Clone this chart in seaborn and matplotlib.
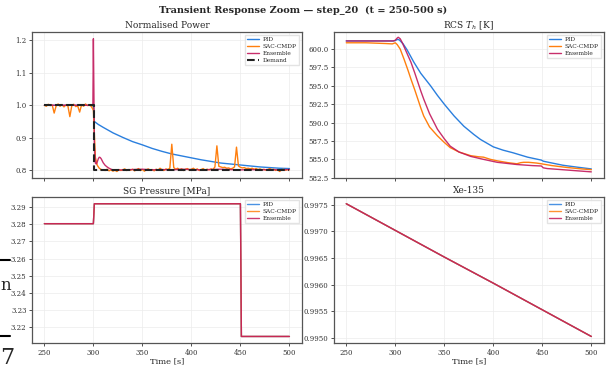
import numpy as np
import pandas as pd
import matplotlib
matplotlib.use("Agg")
import matplotlib.pyplot as plt
from matplotlib.lines import Line2D
from matplotlib.ticker import MultipleLocator
import seaborn as sns

# ---- data ----
# normalised power
demand_t = [250, 300.5, 300.5, 500]
demand_p = [1.0, 1.0, 0.8, 0.8]

pid_pw_t = [250, 299, 300, 301, 305, 310, 320, 330, 340, 350, 360, 370, 380,
            390, 400, 410, 420, 430, 440, 450, 460, 470, 480, 490, 500]
pid_pw = [1.0, 1.0, 0.995, 0.95, 0.941, 0.932, 0.915, 0.901, 0.888, 0.878, 0.867,
          0.858, 0.850, 0.844, 0.838, 0.832, 0.827, 0.822, 0.819, 0.816, 0.813,
          0.810, 0.808, 0.806, 0.805]

sac_pw_t = np.arange(250, 501, 2)
sac_pw = [1.000, 0.997, 1.003, 0.999, 1.001, 0.976, 0.998, 1.004, 0.997, 1.002,
          0.995, 1.001, 0.998, 0.965, 0.999, 1.003, 0.996, 0.998, 0.979, 1.002,
          0.997, 1.004, 0.999, 1.001, 0.996,
          0.985, 0.840, 0.815, 0.806, 0.802, 0.801, 0.799, 0.803, 0.798, 0.801,
          0.797, 0.800, 0.796, 0.802, 0.799, 0.801, 0.804, 0.799, 0.802, 0.800,
          0.803, 0.798, 0.801, 0.805, 0.799, 0.802, 0.797, 0.801, 0.804, 0.800,
          0.802, 0.798, 0.803, 0.800, 0.806, 0.801, 0.799, 0.804, 0.802, 0.806,
          0.880, 0.808, 0.803, 0.806, 0.801, 0.804, 0.799, 0.803, 0.805, 0.800,
          0.803, 0.806, 0.801, 0.804, 0.799, 0.802, 0.805, 0.800, 0.803, 0.801,
          0.804, 0.802, 0.810, 0.875, 0.812, 0.810, 0.808, 0.809, 0.806, 0.807,
          0.804, 0.806, 0.810, 0.871, 0.813, 0.809, 0.807, 0.808, 0.805, 0.806,
          0.804, 0.806, 0.803, 0.805, 0.802, 0.804, 0.801, 0.803, 0.800, 0.802,
          0.805, 0.801, 0.803, 0.799, 0.802, 0.796, 0.801, 0.803, 0.800, 0.802,
          0.801]

ens_pw_t = [250, 299.5, 300, 300.5, 301, 302, 303, 304, 305, 306, 307, 308, 309,
            310, 312, 314, 316, 318, 320, 322, 330, 340, 350, 360, 370, 380,
            390, 400, 410, 420, 430, 440, 450, 460, 470, 480, 490, 500]
ens_pw = [1.0, 1.0, 1.205, 1.05, 0.88, 0.822, 0.819, 0.826, 0.835, 0.840, 0.839,
          0.835, 0.829, 0.823, 0.815, 0.810, 0.806, 0.803, 0.801, 0.800, 0.801,
          0.802, 0.803, 0.801, 0.802, 0.801, 0.803, 0.802, 0.801, 0.802, 0.803,
          0.802, 0.801, 0.802, 0.801, 0.802, 0.801, 0.802]

# RCS hot-leg temperature
pid_th_t = [250, 298, 300, 302, 304, 308, 312, 319, 326, 336, 343, 350, 360, 370,
            380, 387, 400, 410, 420, 435, 449, 451, 460, 471, 485, 500]
pid_th = [601.1, 601.1, 601.15, 601.3, 601.25, 600.7, 599.9, 598.2, 596.7, 595.0,
          593.7, 592.5, 590.9, 589.5, 588.4, 587.7, 586.7, 586.25, 585.9, 585.3,
          584.9, 584.75, 584.5, 584.2, 583.95, 583.7]

sac_th_t = [250, 270, 290, 297, 300, 302, 305, 309, 313, 316, 320, 323, 326, 329,
            335, 343, 350, 356, 365, 377, 385, 390, 397, 404, 415, 424, 428, 431,
            436, 444, 449, 451, 460, 475, 490, 500]
sac_th = [600.85, 600.85, 600.75, 600.7, 600.85, 600.6, 600.0, 598.6, 597.1, 595.9,
          594.4, 593.2, 592.0, 590.9, 589.4, 588.2, 587.3, 586.6, 586.0, 585.5,
          585.35, 585.3, 585.0, 584.8, 584.55, 584.4, 584.55, 584.6, 584.6, 584.5,
          584.4, 584.35, 584.15, 583.9, 583.7, 583.6]

ens_th_t = [250, 298, 300, 302, 303, 305, 307, 309, 312, 316, 320, 323, 326, 329,
            335, 343, 350, 356, 365, 377, 390, 404, 424, 440, 449, 451, 455, 470,
            485, 500]
ens_th = [601.1, 601.1, 601.2, 601.5, 601.6, 601.4, 600.9, 600.3, 599.4, 598.2,
          596.7, 595.5, 594.3, 593.2, 591.2, 589.1, 587.8, 586.8, 586.0, 585.4,
          585.0, 584.6, 584.3, 584.15, 584.1, 583.85, 583.75, 583.6, 583.45, 583.3]

# SG pressure (all three controllers coincide)
sg_t = [250, 300, 301, 450, 451, 500]
sg_p = [3.2803, 3.2803, 3.2919, 3.2919, 3.2147, 3.2147]

# Xe-135 (all three coincide)
xe_t = [250, 300, 350, 400, 450, 500]
xe_v = [0.99752, 0.99702, 0.99652, 0.99603, 0.99553, 0.99503]

colors = {"PID": "#2a7fde", "SAC-CMDP": "#ff7f0e", "Ensemble": "#c2185b"}

sns.set_theme(style="whitegrid", rc={
    "axes.edgecolor": "#555555", "axes.linewidth": 0.9,
    "grid.color": "#ececec", "grid.linewidth": 0.5,
    "xtick.bottom": True, "ytick.left": True,
    "xtick.color": "#333333", "ytick.color": "#333333",
    "xtick.major.size": 2.5, "ytick.major.size": 2.5,
    "xtick.major.pad": 1.5, "ytick.major.pad": 1.5,
    "xtick.major.width": 0.6, "ytick.major.width": 0.6,
    "xtick.labelsize": 5, "ytick.labelsize": 5,
})
plt.rcParams["font.family"] = ["DejaVu Serif"]
plt.rcParams["mathtext.fontset"] = "dejavuserif"

fig, axes = plt.subplots(2, 2, figsize=(6.06, 3.65), dpi=100, sharex=True)
fig.subplots_adjust(left=0.053, right=0.996, top=0.912, bottom=0.06,
                    wspace=0.12, hspace=0.13)

lw = 1.0
kw = dict(estimator=None, sort=False)

# Normalised power
ax = axes[0, 0]
sns.lineplot(x=pid_pw_t, y=pid_pw, ax=ax, color=colors["PID"], lw=lw, label="PID", **kw)
sns.lineplot(x=sac_pw_t, y=sac_pw, ax=ax, color=colors["SAC-CMDP"], lw=lw, label="SAC-CMDP", **kw)
sns.lineplot(x=ens_pw_t, y=ens_pw, ax=ax, color=colors["Ensemble"], lw=lw, alpha=0.9,
             label="Ensemble", **kw)
sns.lineplot(x=demand_t, y=demand_p, ax=ax, color="#222222", lw=1.5, ls="--",
             label="Demand", **kw)
ax.set_title("Normalised Power", fontsize=6.5, pad=3)
ax.yaxis.set_major_locator(MultipleLocator(0.1))

# RCS Th
ax = axes[0, 1]
sns.lineplot(x=pid_th_t, y=pid_th, ax=ax, color=colors["PID"], lw=lw, label="PID", **kw)
sns.lineplot(x=sac_th_t, y=sac_th, ax=ax, color=colors["SAC-CMDP"], lw=lw, label="SAC-CMDP", **kw)
sns.lineplot(x=ens_th_t, y=ens_th, ax=ax, color=colors["Ensemble"], lw=lw, alpha=0.9,
             label="Ensemble", **kw)
ax.set_title("RCS $T_h$ [K]", fontsize=6.5, pad=3)
ax.yaxis.set_major_locator(MultipleLocator(2.5))
ax.set_ylim(582.45, 602.3)

# SG pressure
ax = axes[1, 0]
for name in ["PID", "SAC-CMDP", "Ensemble"]:
    sns.lineplot(x=sg_t, y=sg_p, ax=ax, color=colors[name], lw=lw, alpha=0.85,
                 label=name, **kw)
ax.set_title("SG Pressure [MPa]", fontsize=6.5, pad=3)
ax.yaxis.set_major_locator(MultipleLocator(0.01))

# Xe-135
ax = axes[1, 1]
for name in ["PID", "SAC-CMDP", "Ensemble"]:
    sns.lineplot(x=xe_t, y=xe_v, ax=ax, color=colors[name], lw=lw, alpha=0.85,
                 label=name, **kw)
ax.set_title("Xe-135", fontsize=6.5, pad=3)
ax.yaxis.set_major_locator(MultipleLocator(0.0005))

for ax in axes.flat:
    ax.set_ylabel("")
    ax.set_xlabel("")
    ax.legend(loc="upper right", fontsize=4.2, frameon=True, fancybox=False,
              edgecolor="#dddddd", handlelength=2.0, borderpad=0.4,
              labelspacing=0.3, handletextpad=0.6)
    ax.xaxis.set_major_locator(MultipleLocator(50))
for ax in axes[1]:
    ax.set_xlabel("Time [s]", fontsize=6, labelpad=0.5)

fig.suptitle("Transient Response Zoom \u2014 step_20  (t = 250-500 s)",
             fontsize=7, fontweight="bold", y=0.985)

# fragments of a neighbouring figure visible at the left edge
fig.text(0.0, 1 - 285 / 365, "n", fontsize=12, va="center", ha="left")
fig.text(0.0, 1 - 358 / 365, "7", fontsize=16, va="center", ha="left")
for yy in [260, 336]:
    fig.add_artist(Line2D([0, 0.016], [1 - yy / 365, 1 - yy / 365],
                          transform=fig.transFigure, color="black", lw=1.5))

fig.savefig("out.png", dpi=100)
